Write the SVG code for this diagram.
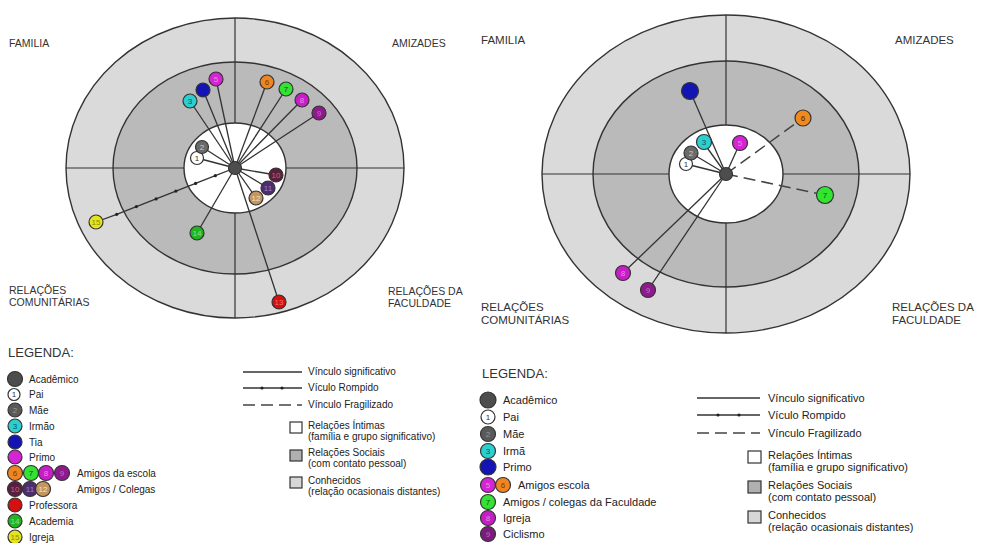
<svg xmlns="http://www.w3.org/2000/svg" width="982" height="543" viewBox="0 0 982 543">
<defs>
<style>
.outer{fill:#dadada;stroke:#333;stroke-width:1.4}
.mid{fill:#bababa;stroke:#333;stroke-width:1.4}
.inner{fill:#fff;stroke:#333;stroke-width:1.4}
.axis{stroke:#333;stroke-width:1.2}
.ln{stroke:#333;stroke-width:1.3;fill:none}
.dash{stroke:#444;stroke-width:1.5;fill:none;stroke-dasharray:12 6}
.nd{stroke:#333;stroke-width:1.2}
.num{font-family:"Liberation Sans",Arial,sans-serif;font-size:8px;text-anchor:middle;dominant-baseline:central}
.rg{font-family:"Liberation Sans",Arial,sans-serif;font-size:10.5px;fill:#333}
.rg2{font-family:"Liberation Sans",Arial,sans-serif;font-size:11.5px;fill:#333}
.lg{font-family:"Liberation Sans",Arial,sans-serif;font-size:10px;fill:#222}
.lg2{font-family:"Liberation Sans",Arial,sans-serif;font-size:11px;fill:#222}
.ttl{font-family:"Liberation Sans",Arial,sans-serif;font-size:13px;fill:#333}
.box{stroke:#333;stroke-width:1.2}
</style>
<marker id="dot" markerWidth="4" markerHeight="4" refX="2" refY="2" markerUnits="userSpaceOnUse"><circle cx="2" cy="2" r="1.6" fill="#222"/></marker>
</defs>

<!-- LEFT DIAGRAM rings -->
<g id="left-rings">
<ellipse class="outer" cx="235" cy="168" rx="169" ry="150"/>
<ellipse class="mid" cx="235" cy="168" rx="122" ry="106"/>
<line class="axis" x1="66" y1="168" x2="404" y2="168"/>
<line class="axis" x1="235" y1="18" x2="235" y2="318"/>
<ellipse class="inner" cx="235" cy="168" rx="51" ry="45"/>
</g>

<g id="left-connectors">
<line class="ln" x1="235" y1="168" x2="197" y2="158"/>
<line class="ln" x1="235" y1="168" x2="202" y2="147"/>
<line class="ln" x1="235" y1="168" x2="190" y2="101"/>
<line class="ln" x1="235" y1="168" x2="203" y2="90"/>
<line class="ln" x1="235" y1="168" x2="216" y2="79"/>
<line class="ln" x1="235" y1="168" x2="267" y2="82"/>
<line class="ln" x1="235" y1="168" x2="286" y2="89"/>
<line class="ln" x1="235" y1="168" x2="302" y2="100"/>
<line class="ln" x1="235" y1="168" x2="319" y2="113"/>
<line class="ln" x1="235" y1="168" x2="276" y2="175"/>
<line class="ln" x1="235" y1="168" x2="268" y2="188"/>
<line class="ln" x1="235" y1="168" x2="256" y2="198"/>
<line class="ln" x1="235" y1="168" x2="279" y2="302"/>
<line class="ln" x1="235" y1="168" x2="197" y2="233"/>
<polyline class="ln" marker-mid="url(#dot)" points="235,168 215.3,175.7 195.6,183.4 175.9,191.1 156.1,198.9 136.4,206.6 116.7,214.3 96,222"/>
</g>

<g id="left-nodes">
<g id="L0"><circle class="nd" cx="235" cy="168" r="6.5" fill="#4d4d4d"/></g>
<g id="L1"><circle class="nd" cx="197" cy="158" r="6.5" fill="#fff"/><text class="num" x="197" y="158" fill="#333">1</text></g>
<g id="L2"><circle class="nd" cx="202" cy="147" r="6.5" fill="#6a6a6a"/><text class="num" x="202" y="147" fill="#ccc">2</text></g>
<g id="L3"><circle class="nd" cx="190" cy="101" r="7" fill="#2ccfd0"/><text class="num" x="190" y="101" fill="#155">3</text></g>
<g id="L4"><circle class="nd" cx="203" cy="90" r="7" fill="#1414b4"/></g>
<g id="L5"><circle class="nd" cx="216" cy="79" r="7" fill="#d424d4"/><text class="num" x="216" y="79" fill="#e88ae8">5</text></g>
<g id="L6"><circle class="nd" cx="267" cy="82" r="7" fill="#ef8522"/><text class="num" x="267" y="82" fill="#7a3a00">6</text></g>
<g id="L7"><circle class="nd" cx="286" cy="89" r="7" fill="#34e234"/><text class="num" x="286" y="89" fill="#145214">7</text></g>
<g id="L8"><circle class="nd" cx="302" cy="100" r="7" fill="#c81ec8"/><text class="num" x="302" y="100" fill="#e88ae8">8</text></g>
<g id="L9"><circle class="nd" cx="319" cy="113" r="7" fill="#8e1a8e"/><text class="num" x="319" y="113" fill="#c070c0">9</text></g>
<g id="L10"><circle class="nd" cx="276" cy="175" r="7" fill="#5c1e3c"/><text class="num" x="276" y="175" fill="#b0708a">10</text></g>
<g id="L11"><circle class="nd" cx="268" cy="188" r="7" fill="#4e2c72"/><text class="num" x="268" y="188" fill="#9a80c0">11</text></g>
<g id="L12"><circle class="nd" cx="256" cy="198" r="7" fill="#c4965e"/><text class="num" x="256" y="198" fill="#f2e2c8">12</text></g>
<g id="L13"><circle class="nd" cx="279" cy="302" r="7" fill="#d41010"/><text class="num" x="279" y="302" fill="#f07070">13</text></g>
<g id="L14"><circle class="nd" cx="197" cy="233" r="7" fill="#22b422"/><text class="num" x="197" y="233" fill="#8ae28a">14</text></g>
<g id="L15"><circle class="nd" cx="96" cy="222" r="7" fill="#e4e41e"/><text class="num" x="96" y="222" fill="#8a8a10">15</text></g>
</g>

<g id="left-labels">
<text class="rg" x="9" y="47">FAMILIA</text>
<text class="rg" x="392" y="47">AMIZADES</text>
<text class="rg" x="9" y="294">RELAÇÕES</text>
<text class="rg" x="9" y="306">COMUNITÁRIAS</text>
<text class="rg" x="388" y="295">RELAÇÕES DA</text>
<text class="rg" x="388" y="307">FACULDADE</text>
</g>

<!-- RIGHT DIAGRAM -->
<g id="right-rings">
<ellipse class="outer" cx="726" cy="174" rx="184" ry="159"/>
<ellipse class="mid" cx="726" cy="174" rx="133" ry="113"/>
<line class="axis" x1="542" y1="174" x2="910" y2="174"/>
<line class="axis" x1="726" y1="15" x2="726" y2="333"/>
<ellipse class="inner" cx="726" cy="174" rx="57" ry="49"/>
</g>

<g id="right-connectors">
<line class="ln" x1="726" y1="174" x2="686" y2="164"/>
<line class="ln" x1="726" y1="174" x2="691" y2="153"/>
<line class="ln" x1="726" y1="174" x2="703" y2="142"/>
<line class="ln" x1="726" y1="174" x2="690" y2="91"/>
<line class="ln" x1="726" y1="174" x2="740" y2="143"/>
<line class="ln" x1="726" y1="174" x2="623" y2="273"/>
<line class="ln" x1="726" y1="174" x2="648" y2="290"/>
<line class="dash" x1="726" y1="174" x2="803" y2="118"/>
<line class="dash" x1="726" y1="174" x2="825" y2="195"/>
</g>

<g id="right-nodes">
<g id="R0"><circle class="nd" cx="726" cy="174" r="6.5" fill="#4d4d4d"/></g>
<g id="R1"><circle class="nd" cx="686" cy="164" r="6.5" fill="#fff"/><text class="num" x="686" y="164" fill="#333">1</text></g>
<g id="R2"><circle class="nd" cx="691" cy="153" r="7" fill="#6a6a6a"/><text class="num" x="691" y="153" fill="#ccc">2</text></g>
<g id="R3"><circle class="nd" cx="704" cy="142" r="7.5" fill="#2ccfd0"/><text class="num" x="704" y="142" fill="#155">3</text></g>
<g id="R4"><circle class="nd" cx="690" cy="91" r="8.5" fill="#1414b4"/></g>
<g id="R5"><circle class="nd" cx="740" cy="143" r="7.5" fill="#d424d4"/><text class="num" x="740" y="143" fill="#e88ae8">5</text></g>
<g id="R6"><circle class="nd" cx="803" cy="118" r="8" fill="#f08a1e" stroke="#f08a1e"/><text class="num" x="803" y="118" fill="#4a2000">6</text></g>
<g id="R7"><circle class="nd" cx="825" cy="195" r="8.5" fill="#30e430" stroke="#30e430"/><text class="num" x="825" y="195" fill="#144a14">7</text></g>
<g id="R8"><circle class="nd" cx="623" cy="273" r="7.5" fill="#c41ec4"/><text class="num" x="623" y="273" fill="#e88ae8">8</text></g>
<g id="R9"><circle class="nd" cx="648" cy="290" r="7.5" fill="#8e1a8e"/><text class="num" x="648" y="290" fill="#c070c0">9</text></g>
</g>

<g id="right-labels">
<text class="rg2" x="481" y="44">FAMILIA</text>
<text class="rg2" x="895" y="44">AMIZADES</text>
<text class="rg2" x="481" y="311">RELAÇÕES</text>
<text class="rg2" x="481" y="324">COMUNITÁRIAS</text>
<text class="rg2" x="892" y="311">RELAÇÕES DA</text>
<text class="rg2" x="892" y="324">FACULDADE</text>
</g>

<!-- LEFT LEGEND -->
<g id="left-legend">
<text class="ttl" x="8" y="357">LEGENDA:</text>
<circle class="nd" cx="15" cy="379" r="7.5" fill="#4d4d4d"/><text class="lg" x="29" y="383">Acadêmico</text>
<circle class="nd" cx="14" cy="394.5" r="6" fill="#fff"/><text class="num" x="14" y="394.5" fill="#333">1</text><text class="lg" x="29" y="398">Pai</text>
<circle class="nd" cx="15" cy="410" r="7" fill="#5a5a5a"/><text class="num" x="15" y="410" fill="#999">2</text><text class="lg" x="29" y="414">Mãe</text>
<circle class="nd" cx="15" cy="426" r="7" fill="#2ccfd0"/><text class="num" x="15" y="426" fill="#155">3</text><text class="lg" x="29" y="430">Irmão</text>
<circle class="nd" cx="15" cy="442" r="7" fill="#1414b4"/><text class="lg" x="29" y="446">Tia</text>
<circle class="nd" cx="15" cy="457" r="7" fill="#d424d4"/><text class="lg" x="29" y="461">Primo</text>
<circle class="nd" cx="15" cy="473" r="7.5" fill="#ef8522"/><text class="num" x="15" y="473" fill="#7a3a00">6</text>
<circle class="nd" cx="31" cy="473" r="7.5" fill="#34e234"/><text class="num" x="31" y="473" fill="#145214">7</text>
<circle class="nd" cx="46" cy="473" r="7.5" fill="#c81ec8"/><text class="num" x="46" y="473" fill="#e88ae8">8</text>
<circle class="nd" cx="62" cy="473" r="7.5" fill="#8e1a8e"/><text class="num" x="62" y="473" fill="#c070c0">9</text>
<text class="lg" x="77" y="477">Amigos da escola</text>
<circle class="nd" cx="15" cy="489" r="7.5" fill="#5c1e3c"/><text class="num" x="15" y="489" fill="#b0708a">10</text>
<circle class="nd" cx="30" cy="489" r="7.5" fill="#4e2c72"/><text class="num" x="30" y="489" fill="#9a80c0">11</text>
<circle class="nd" cx="43" cy="489" r="7.5" fill="#c4965e"/><text class="num" x="43" y="489" fill="#f2e2c8">12</text>
<text class="lg" x="77" y="493">Amigos / Colegas</text>
<circle class="nd" cx="15" cy="505" r="7" fill="#d41010"/><text class="lg" x="29" y="509">Professora</text>
<circle class="nd" cx="15" cy="521" r="7" fill="#22b422"/><text class="num" x="15" y="521" fill="#8ae28a">14</text><text class="lg" x="29" y="525">Academia</text>
<circle class="nd" cx="15" cy="537" r="7" fill="#e4e41e"/><text class="num" x="15" y="537" fill="#8a8a10">15</text><text class="lg" x="29" y="541">Igreja</text>
</g>

<g id="left-legend-lines">
<line class="ln" x1="243" y1="372" x2="302" y2="372"/><text class="lg" x="308" y="375">Vínculo significativo</text>
<polyline class="ln" marker-mid="url(#dot)" points="243,388 262,388 282,388 302,388"/><text class="lg" x="308" y="391">Vículo Rompido</text>
<line class="dash" x1="243" y1="405" x2="302" y2="405"/><text class="lg" x="308" y="408">Vínculo Fragilizado</text>
<rect class="box" x="290" y="422" width="12" height="11" fill="#fff"/><text class="lg" x="308" y="429">Relações Íntimas</text><text class="lg" x="308" y="440">(família e grupo significativo)</text>
<rect class="box" x="290" y="450" width="12" height="11" fill="#b0b0b0"/><text class="lg" x="308" y="456">Relações Sociais</text><text class="lg" x="308" y="467">(com contato pessoal)</text>
<rect class="box" x="290" y="477" width="12" height="11" fill="#d6d6d6"/><text class="lg" x="308" y="484">Conhecidos</text><text class="lg" x="308" y="495">(relação ocasionais distantes)</text>
</g>

<!-- RIGHT LEGEND -->
<g id="right-legend">
<text class="ttl" x="482" y="378">LEGENDA:</text>
<circle class="nd" cx="488" cy="400" r="8" fill="#4d4d4d"/><text class="lg2" x="503" y="404">Acadêmico</text>
<circle class="nd" cx="488" cy="417" r="7" fill="#fff"/><text class="num" x="488" y="417" fill="#333">1</text><text class="lg2" x="503" y="421">Pai</text>
<circle class="nd" cx="488" cy="434" r="7.5" fill="#5a5a5a"/><text class="num" x="488" y="434" fill="#999">2</text><text class="lg2" x="503" y="438">Mãe</text>
<circle class="nd" cx="488" cy="451" r="7.5" fill="#2ccfd0"/><text class="num" x="488" y="451" fill="#155">3</text><text class="lg2" x="503" y="455">Irmã</text>
<circle class="nd" cx="488" cy="467" r="8" fill="#1414b4"/><text class="lg2" x="503" y="471">Primo</text>
<circle class="nd" cx="488" cy="485" r="7.5" fill="#d424d4"/><text class="num" x="488" y="485" fill="#e88ae8">5</text>
<circle class="nd" cx="503" cy="485" r="7.5" fill="#ef8522"/><text class="num" x="503" y="485" fill="#7a3a00">6</text>
<text class="lg2" x="518" y="489">Amigos escola</text>
<circle class="nd" cx="488" cy="502" r="7.5" fill="#34e234"/><text class="num" x="488" y="502" fill="#145214">7</text><text class="lg2" x="503" y="506">Amigos / colegas da Faculdade</text>
<circle class="nd" cx="488" cy="518" r="7.5" fill="#c41ec4"/><text class="num" x="488" y="518" fill="#e88ae8">8</text><text class="lg2" x="503" y="522">Igreja</text>
<circle class="nd" cx="488" cy="534" r="7.5" fill="#7e1a7e"/><text class="num" x="488" y="534" fill="#b070b0">9</text><text class="lg2" x="503" y="538">Ciclismo</text>
</g>

<g id="right-legend-lines">
<line class="ln" x1="697" y1="398" x2="760" y2="398"/><text class="lg2" x="768" y="402">Vínculo significativo</text>
<polyline class="ln" marker-mid="url(#dot)" points="697,415 718,415 739,415 760,415"/><text class="lg2" x="768" y="419">Vículo Rompido</text>
<line class="dash" x1="697" y1="433" x2="760" y2="433"/><text class="lg2" x="768" y="437">Vínculo Fragilizado</text>
<rect class="box" x="748" y="451" width="13" height="12" fill="#fff"/><text class="lg2" x="768" y="459">Relações Íntimas</text><text class="lg2" x="768" y="471">(família e grupo significativo)</text>
<rect class="box" x="748" y="481" width="13" height="12" fill="#b0b0b0"/><text class="lg2" x="768" y="489">Relações Sociais</text><text class="lg2" x="768" y="501">(com contato pessoal)</text>
<rect class="box" x="748" y="511" width="13" height="12" fill="#d6d6d6"/><text class="lg2" x="768" y="519">Conhecidos</text><text class="lg2" x="768" y="531">(relação ocasionais distantes)</text>
</g>
</svg>
